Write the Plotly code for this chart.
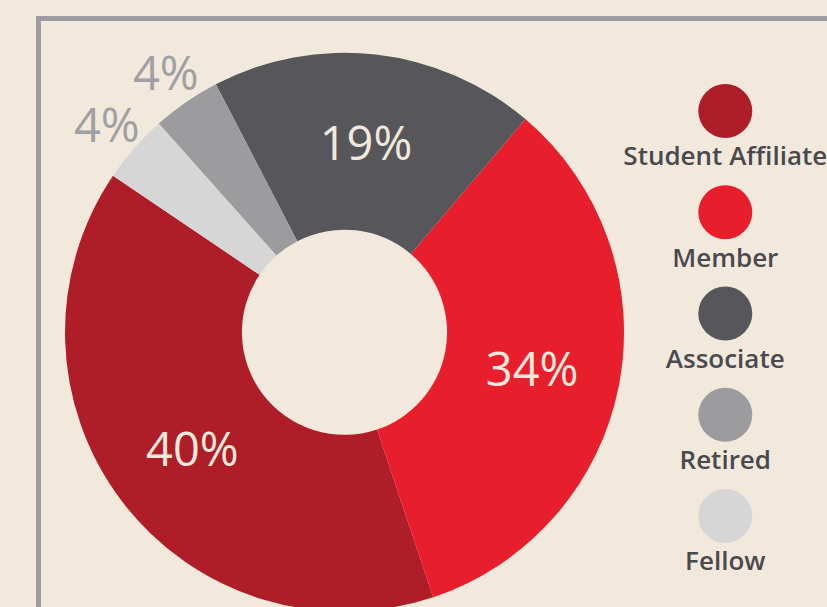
import math
import plotly.graph_objects as go

categories = ["Student Affiliate", "Member", "Associate", "Retired", "Fellow"]
shares = [40, 34, 19, 4, 4]
colors = ["#af1e28", "#e91e2d", "#57565b", "#9c9c9e", "#d6d6d6"]
inside_label = [True, True, True, False, False]
legend_rank = [0, 1, 2, 3, 4]

BG = "#f1e9dc"
FONT = "Open Sans"
W, H = 827, 612          # page window is 827x607; bottom few px of the pie run off-screen
ROT = 161.5
HOLE = 0.367
DOM_X = [65 / W, 624 / W]
DOM_Y = [0, 1 - 52.5 / H]

fig = go.Figure()

fig.add_trace(go.Pie(
    labels=categories,
    values=shares,
    sort=False,
    direction="counterclockwise",
    rotation=ROT,
    hole=HOLE,
    marker=dict(colors=colors, line=dict(width=0)),
    texttemplate=["%{value}%" if k else "" for k in inside_label],
    textposition="inside",
    insidetextorientation="horizontal",
    textfont=dict(family=FONT, size=47, color="#f1eadc"),
    showlegend=False,
    domain=dict(x=DOM_X, y=DOM_Y),
))

# outside labels for the small slices, placed at each slice's mid-angle
pw = (DOM_X[1] - DOM_X[0]) * W
ph = (DOM_Y[1] - DOM_Y[0]) * H
r = min(pw, ph) / 2
cx = (DOM_X[0] + DOM_X[1]) / 2 * W
cy = (1 - (DOM_Y[0] + DOM_Y[1]) / 2) * H
total = sum(shares)
ang = ROT
annotations = []
for i, (v, k) in enumerate(zip(shares, inside_label)):
    span = 360 * v / total
    if i == 0:
        mid = ROT + span / 2
    else:
        mid = ang - span / 2
        ang -= span
    if not k:
        rl = r + 36
        px = cx + rl * math.sin(math.radians(mid))
        py = cy - rl * math.cos(math.radians(mid))
        annotations.append(dict(
            x=px / W, y=1 - py / H, xref="paper", yref="paper",
            text=f"{v}%", showarrow=False, xanchor="center", yanchor="middle",
            font=dict(family=FONT, size=47, color="#a0a0a2"),
        ))

# legend: big dots with the category name underneath
fig.add_trace(go.Scatter(
    x=[0] * len(categories),
    y=legend_rank,
    mode="markers+text",
    marker=dict(size=54, color=colors, line=dict(width=0)),
    text=categories,
    textposition="bottom center",
    textfont=dict(family=FONT, size=26, color="#4a494e", weight=600),
    showlegend=False,
    hoverinfo="skip",
    cliponaxis=False,
))

unit = 101.25
top_val = -111 / unit
bot_val = top_val + H / unit

fig.update_layout(
    width=W, height=H,
    margin=dict(l=0, r=0, t=0, b=0),
    paper_bgcolor=BG, plot_bgcolor="rgba(0,0,0,0)",
    xaxis=dict(domain=[0.80, 0.954], range=[-1, 1], visible=False, fixedrange=True),
    yaxis=dict(domain=[0, 1], range=[bot_val, top_val], visible=False, fixedrange=True),
    annotations=annotations,
    shapes=[dict(
        type="rect", xref="paper", yref="paper",
        x0=38.5 / W, x1=1.05, y0=-0.05, y1=1 - 18.5 / H,
        line=dict(color="#9d9d9f", width=5), fillcolor="rgba(0,0,0,0)",
        layer="below",
    )],
)

fig.write_html(
    "out.html",
    config={"displayModeBar": False},
    post_script=(
        "document.body.style.margin='0';"
        "document.body.style.overflow='hidden';"
        "document.documentElement.style.overflow='hidden';"
        "document.body.style.background='" + BG + "';"
    ),
)
